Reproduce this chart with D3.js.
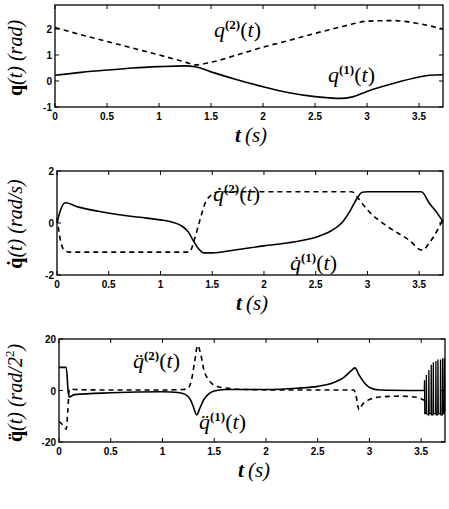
<!DOCTYPE html>
<html lang="en">
<head>
<meta charset="UTF-8">
<script src="https://cdn.jsdelivr.net/npm/d3@7"></script>
<style>
  body { margin: 0; background: #fff; }
  .tick-label { font-family: "Liberation Sans", Arial, sans-serif; font-weight: bold; font-size: 10px; }
  .serif { font-family: "Liberation Serif", "DejaVu Serif", serif; }
</style>
</head>
<body>
<script>
// ---- data ----
const xTicks = [0, 0.5, 1, 1.5, 2, 2.5, 3, 3.5];
const xTickLabels = ["0", "0.5", "1", "1.5", "2", "2.5", "3", "3.5"];

// panel 1: positions
const tPos = [0, 0.25, 0.5, 0.75, 1, 1.25, 1.35, 1.5, 1.75, 2, 2.25, 2.5, 2.75, 2.85, 3, 3.25, 3.5, 3.6, 3.73];
const q1 = [0.22, 0.33, 0.42, 0.5, 0.55, 0.58, 0.55, 0.35, 0.05, -0.22, -0.45, -0.6, -0.67, -0.62, -0.4, -0.1, 0.15, 0.22, 0.24];
const q2 = [2.05, 1.78, 1.52, 1.26, 1.0, 0.73, 0.62, 0.72, 1.0, 1.3, 1.56, 1.83, 2.08, 2.18, 2.3, 2.32, 2.2, 2.12, 2.0];
const qTicks = [-1, 0, 1, 2];

// panel 2: velocities [t, value]
const q1dot = [[0,0],[0.03,0.45],[0.08,0.78],[0.2,0.62],[0.4,0.45],[0.6,0.32],[0.8,0.22],[1.0,0.12],[1.1,0.05],[1.2,-0.1],[1.27,-0.35],[1.32,-0.7],[1.37,-1.0],[1.42,-1.15],[1.5,-1.15],[1.7,-1.05],[2.0,-0.88],[2.3,-0.72],[2.5,-0.55],[2.65,-0.3],[2.75,0],[2.83,0.45],[2.9,0.95],[2.95,1.18],[3.0,1.2],[3.52,1.2],[3.6,0.75],[3.68,0.35],[3.73,0.05]];
const q2dot = [[0,0.2],[0.03,-0.6],[0.07,-1.05],[0.12,-1.12],[1.28,-1.12],[1.33,-0.6],[1.38,0.1],[1.43,0.75],[1.5,1.1],[1.57,1.2],[2.85,1.2],[2.9,1.0],[3.0,0.5],[3.2,-0.15],[3.4,-0.65],[3.53,-1.05],[3.6,-0.75],[3.68,-0.25],[3.73,0.15]];
const qdotTicks = [-2, 0, 2];

// panel 3: accelerations [t, value]
const q1ddot = [[0,9],[0.07,9],[0.09,-1],[0.1,-2.5],[0.15,-1.6],[0.5,-0.9],[1.0,-0.5],[1.15,-0.8],[1.22,-1.5],[1.27,-3.5],[1.3,-6.5],[1.33,-9.5],[1.36,-7],[1.4,-3.5],[1.45,-1.2],[1.5,-0.2],[1.6,0.4],[2.0,0.4],[2.3,0.9],[2.5,1.6],[2.65,3],[2.75,5],[2.82,7.5],[2.86,8.8],[2.9,6],[2.95,3],[3.0,1.2],[3.1,0.2],[3.53,0]];
const q1ddotChatter = [[3.53,0],[3.532,4],[3.535,-9],[3.548,-9],[3.55,6],[3.553,-9],[3.572,-9.5],[3.574,8],[3.577,-9],[3.595,-9],[3.597,10],[3.6,-9.5],[3.615,-9.5],[3.617,11],[3.62,-9],[3.64,-9],[3.642,11.5],[3.645,-9.5],[3.66,-9.5],[3.662,12],[3.665,-9],[3.685,-9],[3.687,12],[3.69,-9.5],[3.705,-9.5],[3.707,12.5],[3.71,-9],[3.722,-9],[3.724,12.5],[3.727,-8]];
const q2ddot = [[0,-12],[0.04,-13.5],[0.07,-15],[0.085,-8],[0.1,0.5],[0.2,0.3],[0.5,0.2],[1.0,0.2],[1.2,0.4],[1.25,1],[1.28,4],[1.31,11],[1.34,17.5],[1.37,14],[1.4,8],[1.45,4],[1.5,2],[1.6,1],[1.8,0.4],[2.2,0.2],[2.85,0.2],[2.87,-2],[2.9,-7.5],[2.93,-5.5],[3.0,-3.5],[3.1,-2.5],[3.3,-2.2],[3.45,-2.6],[3.53,-3.8]];
const qddotTicks = [-20, 0, 20];

const W = 449, H = 509;
const svg = d3.select("body").append("svg").attr("width", W).attr("height", H);

function panel(cfg) {
  const x = d3.scaleLinear().domain([0, 3.73]).range([cfg.x0, cfg.x1]);
  const y = d3.scaleLinear().domain(cfg.yDomain).range([cfg.y1, cfg.y0]);
  const g = svg.append("g");

  // ticks (inward, all four sides)
  const tl = 4;
  xTicks.forEach(v => {
    g.append("line").attr("x1", x(v)).attr("x2", x(v)).attr("y1", cfg.y1).attr("y2", cfg.y1 - tl).attr("stroke", "#000");
    g.append("line").attr("x1", x(v)).attr("x2", x(v)).attr("y1", cfg.y0).attr("y2", cfg.y0 + tl).attr("stroke", "#000");
  });
  cfg.yTicks.forEach(v => {
    g.append("line").attr("x1", cfg.x0).attr("x2", cfg.x0 + tl).attr("y1", y(v)).attr("y2", y(v)).attr("stroke", "#000");
    g.append("line").attr("x1", cfg.x1).attr("x2", cfg.x1 - tl).attr("y1", y(v)).attr("y2", y(v)).attr("stroke", "#000");
  });
  g.selectAll(".xl").data(xTicks).join("text")
    .attr("class", "tick-label")
    .attr("x", d => x(d)).attr("y", cfg.y1 + 13)
    .attr("text-anchor", "middle")
    .text((d, i) => xTickLabels[i]);
  g.selectAll(".yl").data(cfg.yTicks).join("text")
    .attr("class", "tick-label")
    .attr("x", cfg.x0 - 3).attr("y", d => y(d) + 4)
    .attr("text-anchor", "end")
    .text(d => d);

  const line = d3.line().x(d => x(d[0])).y(d => y(d[1]));
  cfg.series.forEach(s => {
    line.curve(s.curve === "linear" ? d3.curveLinear : d3.curveMonotoneX);
    g.append("path").attr("d", line(s.data))
      .attr("fill", "none").attr("stroke", "#000").attr("stroke-width", s.w || 1.6)
      .attr("stroke-dasharray", s.dash ? "5,4" : null);
  });

  g.append("rect").attr("x", cfg.x0).attr("y", cfg.y0)
    .attr("width", cfg.x1 - cfg.x0).attr("height", cfg.y1 - cfg.y0)
    .attr("fill", "none").attr("stroke", "#000").attr("stroke-width", 1.3);

  // x label
  const xl = g.append("text").attr("class", "serif")
    .attr("x", (cfg.x0 + cfg.x1) / 2 + 2).attr("y", cfg.y1 + 35)
    .attr("text-anchor", "middle").attr("font-size", 21).attr("font-style", "italic");
  xl.append("tspan").attr("font-weight", "bold").text("t");
  xl.append("tspan").text("\u2009(s)");

  // y label
  const yl = g.append("text").attr("class", "serif")
    .attr("transform", `translate(${cfg.ylx},${cfg.ylc}) rotate(-90)`)
    .attr("text-anchor", "middle").attr("font-size", 20);
  yl.append("tspan").attr("font-weight", "bold").text(cfg.ySym);
  yl.append("tspan").attr("font-style", "italic").text(cfg.yText);
  if (cfg.yUnit) cfg.yUnit(yl);

  // annotations
  cfg.notes.forEach(n => {
    const t = g.append("text").attr("class", "serif")
      .attr("x", n.x).attr("y", n.y).attr("font-size", 22);
    t.append("tspan").attr("font-style", "italic").text(n.sym);
    t.append("tspan").attr("font-size", 13).attr("font-weight", "bold").attr("dy", -8).text(n.sup);
    t.append("tspan").attr("dy", 8).text("(");
    t.append("tspan").attr("font-style", "italic").text("t");
    t.append("tspan").text(")");
  });
}

panel({
  x0: 55, x1: 443, y0: 5, y1: 107, yDomain: [-1, 2.92], yTicks: qTicks, ylx: 22, ylc: 58,
  ySym: "q", yText: "(t) (rad)",
  series: [
    { data: tPos.map((t, i) => [t, q1[i]]) },
    { data: tPos.map((t, i) => [t, q2[i]]), dash: true }
  ],
  notes: [{ x: 214, y: 37, sym: "q", sup: "(2)" }, { x: 328, y: 82, sym: "q", sup: "(1)" }]
});

panel({
  x0: 57, x1: 443, y0: 171, y1: 275, yDomain: [-2, 2], yTicks: qdotTicks, ylx: 22, ylc: 224,
  ySym: "q\u0307", yText: "(t) (rad/s)",
  series: [
    { data: q1dot },
    { data: q2dot, dash: true }
  ],
  notes: [{ x: 213, y: 201, sym: "q\u0307", sup: "(2)" }, { x: 290, y: 270, sym: "q\u0307", sup: "(1)" }]
});

panel({
  x0: 59, x1: 445, y0: 339, y1: 442, yDomain: [-20, 20], yTicks: qddotTicks, ylx: 22, ylc: 393,
  ySym: "q\u0308", yText: "(t) (rad/2",
  yUnit: yl => {
    yl.append("tspan").attr("font-size", 13).attr("dy", -8).text("2");
    yl.append("tspan").attr("dy", 8).attr("font-style", "italic").text(")");
  },
  series: [
    { data: q1ddot },
    { data: q1ddotChatter, curve: "linear", w: 1.3 },
    { data: q2ddot, dash: true }
  ],
  notes: [{ x: 133, y: 368, sym: "q\u0308", sup: "(2)" }, { x: 199, y: 429, sym: "q\u0308", sup: "(1)" }]
});
</script>
</body>
</html>
